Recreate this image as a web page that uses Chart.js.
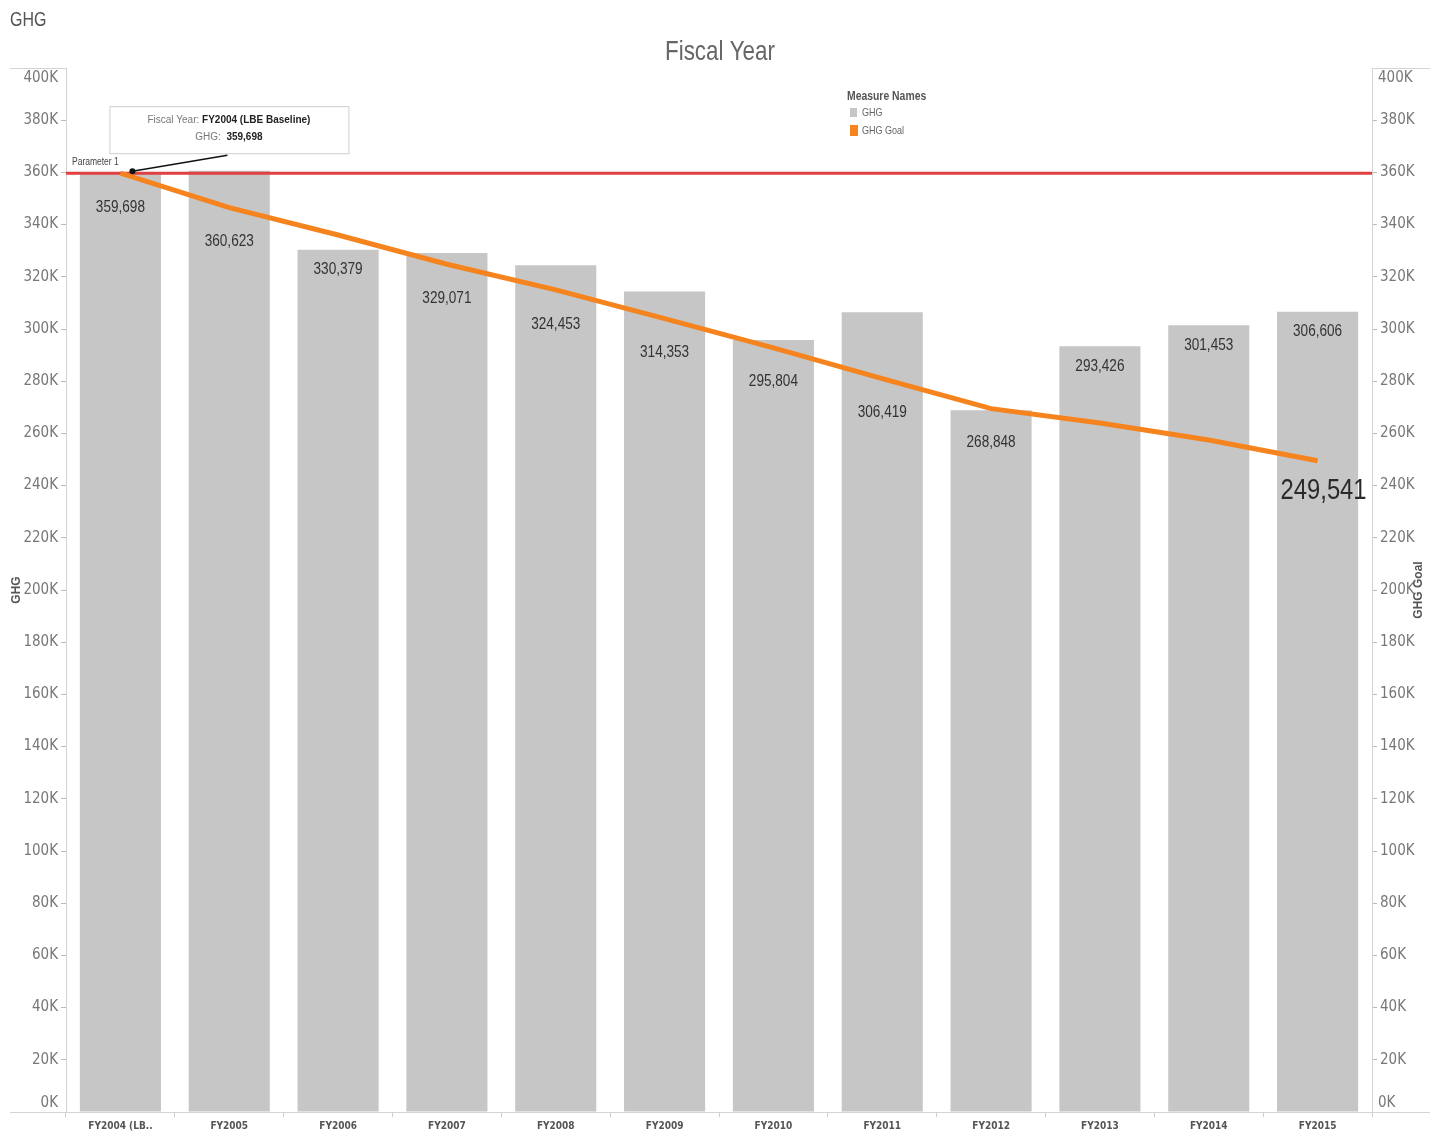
<!DOCTYPE html>
<html>
<head>
<meta charset="utf-8">
<script src="https://cdn.jsdelivr.net/npm/chart.js@4"></script>
<style>
html,body{margin:0;padding:0;background:#fff;}
#wrap{width:1437px;height:1133px;position:relative;}
</style>
</head>
<body>
<div id="wrap"><canvas id="c"></canvas></div>
<script>
// ---- data ----
const categories = ['FY2004 (LB..','FY2005','FY2006','FY2007','FY2008','FY2009','FY2010','FY2011','FY2012','FY2013','FY2014','FY2015'];
const ghg = [359698, 360623, 330379, 329071, 324453, 314353, 295804, 306419, 268848, 293426, 301453, 306606];
const ghgGoal = [359698, 346500, 336000, 324800, 315000, 304000, 292800, 281000, 269500, 264000, 257500, 249541];
const parameter1 = 359698;
const axisTicks = [0,20000,40000,60000,80000,100000,120000,140000,160000,180000,200000,220000,240000,260000,280000,300000,320000,340000,360000,380000,400000];
const baselineLabel = 'FY2004 (LBE Baseline)';

const COND = '"DejaVu Sans Condensed","Liberation Sans",sans-serif';
const SANS = '"Liberation Sans",Arial,sans-serif';
const fmt = v => v.toLocaleString('en-US');
const kfmt = v => (v/1000) + 'K';

// narrow text helper (emulates a condensed face)
function ntext(ctx, str, x, y, font, color, align, sx) {
  ctx.save();
  ctx.font = font; ctx.fillStyle = color; ctx.textAlign = align || 'left'; ctx.textBaseline = 'middle';
  ctx.translate(x, y); ctx.scale(sx || 0.82, 1);
  ctx.fillText(str, 0, 0);
  ctx.restore();
}

const decor = {
  id: 'decor',
  beforeDatasetsDraw(chart) {
    const ctx = chart.ctx, a = chart.chartArea;
    ctx.save();
    ctx.strokeStyle = '#d4d4d4'; ctx.lineWidth = 1;
    ctx.beginPath();
    ctx.moveTo(10, a.top + 0.5); ctx.lineTo(a.left, a.top + 0.5);
    ctx.moveTo(a.right, a.top + 0.5); ctx.lineTo(1430, a.top + 0.5);
    ctx.moveTo(10, a.bottom + 0.5); ctx.lineTo(1430, a.bottom + 0.5);
    ctx.moveTo(a.left + 0.5, a.top); ctx.lineTo(a.left + 0.5, a.bottom);
    ctx.moveTo(a.right + 0.5, a.top); ctx.lineTo(a.right + 0.5, a.bottom);
    ctx.stroke();
    ctx.restore();
  },
  afterDatasetDraw(chart, args) {
    if (args.index !== 0) return;
    const ctx = chart.ctx, a = chart.chartArea, ys = chart.scales.y;
    const py = ys.getPixelForValue(parameter1);
    ctx.save();
    ctx.strokeStyle = '#e0403f'; ctx.lineWidth = 3;
    ctx.beginPath(); ctx.moveTo(a.left, py); ctx.lineTo(a.right, py); ctx.stroke();
    ctx.restore();
  },
  afterDatasetsDraw(chart) {
    const ctx = chart.ctx, a = chart.chartArea;
    const ys = chart.scales.y;
    const barMeta = chart.getDatasetMeta(0), lineMeta = chart.getDatasetMeta(1);
    ctx.save();
    const py = ys.getPixelForValue(parameter1);
    ntext(ctx, 'Parameter 1', a.left + 6, py - 11, '10px ' + SANS, '#444', 'left', 0.85);

    // bar labels
    barMeta.data.forEach((bar, i) => {
      const top = bar.y;
      const ly = lineMeta.data[i].y;
      let y;
      if (ly >= top - 3 && ly - top < 70) y = ly + 34; else y = top + 20;
      ntext(ctx, fmt(ghg[i]), bar.x, y, '17px ' + SANS, '#333', 'center', 0.8);
    });
    // last goal label
    const last = lineMeta.data[lineMeta.data.length - 1];
    ntext(ctx, fmt(ghgGoal[ghgGoal.length - 1]), last.x + 6, last.y + 30, '29px ' + SANS, '#2a2a2a', 'center', 0.82);

    // annotation box
    const p0 = lineMeta.data[0];
    const bx = p0.x - 11, by = p0.y - 67, bw = 239, bh = 47;
    ctx.fillStyle = '#fff'; ctx.fillRect(bx, by, bw, bh);
    ctx.strokeStyle = '#cfcfcf'; ctx.lineWidth = 1; ctx.strokeRect(bx + 0.5, by + 0.5, bw, bh);
    const drawPair = (a1, b1, cx, cy) => {
      ctx.font = '10px ' + SANS; const w1 = ctx.measureText(a1).width;
      ctx.font = 'bold 10px ' + SANS; const w2 = ctx.measureText(b1).width;
      let x = cx - (w1 + w2) / 2;
      ctx.textAlign = 'left'; ctx.textBaseline = 'middle';
      ctx.font = '10px ' + SANS; ctx.fillStyle = '#777'; ctx.fillText(a1, x, cy);
      ctx.font = 'bold 10px ' + SANS; ctx.fillStyle = '#222'; ctx.fillText(b1, x + w1, cy);
    };
    drawPair('Fiscal Year: ', baselineLabel, bx + bw / 2, by + 14);
    drawPair('GHG:  ', fmt(ghg[0]), bx + bw / 2, by + 31);
    // pointer
    ctx.strokeStyle = '#111'; ctx.lineWidth = 1.5;
    ctx.beginPath(); ctx.moveTo(bx + 118, by + bh + 2); ctx.lineTo(p0.x + 12, p0.y - 2); ctx.stroke();
    ctx.fillStyle = '#111'; ctx.beginPath(); ctx.arc(p0.x + 12, p0.y - 2, 3, 0, Math.PI * 2); ctx.fill();

    // end tick labels shifted inside
    ctx.font = '15px ' + COND; ctx.fillStyle = '#777'; ctx.textBaseline = 'middle';
    [[0, ys.getPixelForValue(0) - 9], [400000, ys.getPixelForValue(400000) + 10]].forEach(([v, y]) => {
      ctx.textAlign = 'right'; ctx.fillText(kfmt(v), a.left - 8, y);
      ctx.textAlign = 'left'; ctx.fillText(kfmt(v), a.right + 6, y);
    });

    // axis titles
    ctx.font = 'bold 12px ' + SANS; ctx.fillStyle = '#555'; ctx.textAlign = 'center'; ctx.textBaseline = 'middle';
    ctx.save(); ctx.translate(17, 590); ctx.rotate(-Math.PI / 2); ctx.fillText('GHG', 0, 0); ctx.restore();
    ctx.save(); ctx.translate(1419, 590); ctx.rotate(-Math.PI / 2); ctx.fillText('GHG Goal', 0, 0); ctx.restore();

    // titles
    ntext(ctx, 'GHG', 10, 20, '20px ' + SANS, '#555', 'left', 0.8);
    ntext(ctx, 'Fiscal Year', 720, 52, '28px ' + SANS, '#666', 'center', 0.8);

    // legend
    ntext(ctx, 'Measure Names', 847, 96, 'bold 13px ' + SANS, '#555', 'left', 0.8);
    ctx.fillStyle = '#c6c6c6'; ctx.fillRect(850, 108, 7, 9);
    ctx.fillStyle = '#f5841f'; ctx.fillRect(850, 125, 8, 11);
    ntext(ctx, 'GHG', 862, 113, '11px ' + SANS, '#666', 'left', 0.82);
    ntext(ctx, 'GHG Goal', 862, 131, '11px ' + SANS, '#666', 'left', 0.82);
    ctx.restore();
  }
};

const yTickColor = c => (c.tick && (c.tick.value === 0 || c.tick.value === 400000)) ? 'rgba(0,0,0,0)' : '#bbb';
const yAxisBase = {
  min: 0, max: 400000,
  afterBuildTicks: s => { s.ticks = axisTicks.map(v => ({ value: v })); },
  ticks: {
    callback: v => (v === 0 || v === 400000) ? '' : kfmt(v),
    font: { size: 15, family: COND }, color: '#777', padding: 3
  },
  grid: { drawOnChartArea: false, drawTicks: true, tickLength: 5, tickColor: yTickColor },
  border: { display: false }
};

new Chart(document.getElementById('c'), {
  data: {
    labels: categories,
    datasets: [
      { type: 'bar', label: 'GHG', data: ghg, backgroundColor: '#c6c6c6', barPercentage: 0.745, categoryPercentage: 1, yAxisID: 'y', order: 2 },
      { type: 'line', label: 'GHG Goal', data: ghgGoal, borderColor: '#f5841f', borderWidth: 5, pointRadius: 0, tension: 0, yAxisID: 'y2', order: 1 }
    ]
  },
  options: {
    responsive: true, maintainAspectRatio: false, animation: false,
    layout: { padding: { top: 68, left: 0, right: 0, bottom: 0 } },
    plugins: { legend: { display: false }, tooltip: { enabled: false } },
    scales: {
      x: {
        offset: true,
        afterFit: s => { s.height = 21; },
        ticks: { font: { size: 10, weight: 'bold', family: COND }, color: '#555', padding: 3, maxRotation: 0, autoSkip: false },
        grid: { drawOnChartArea: false, drawTicks: true, tickLength: 5, tickColor: '#ccc', offset: true },
        border: { display: false }
      },
      y: Object.assign({}, yAxisBase, { position: 'left', afterFit: s => { s.width = 66; } }),
      y2: Object.assign({}, yAxisBase, { position: 'right', afterFit: s => { s.width = 65; } })
    }
  },
  plugins: [decor]
});
</script>
</body>
</html>
